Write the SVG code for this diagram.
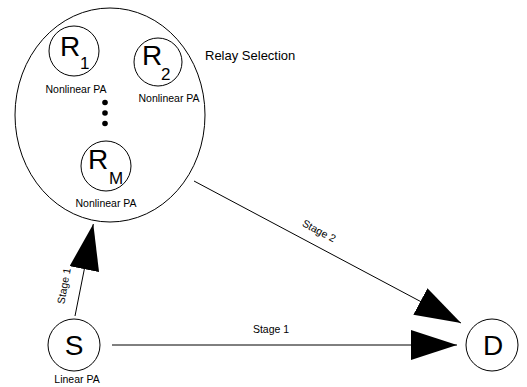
<svg xmlns="http://www.w3.org/2000/svg" width="527" height="387" viewBox="0 0 527 387">
<style>
.node{fill:#fff;stroke:#000;stroke-width:1}
.big{font-family:"Liberation Sans",Arial,sans-serif;font-size:28px;fill:#000}
.sub{font-family:"Liberation Sans",Arial,sans-serif;font-size:17px;fill:#000}
.lbl{font-family:"Liberation Sans",Arial,sans-serif;font-size:10.5px;fill:#000;text-anchor:middle}
.title{font-family:"Liberation Sans",Arial,sans-serif;font-size:13px;fill:#000}
.conn{stroke:#000;stroke-width:1;fill:none;marker-end:url(#ah)}
</style>
<defs>
<marker id="ah" markerUnits="userSpaceOnUse" markerWidth="47" markerHeight="31" refX="46" refY="15" orient="auto" viewBox="0 0 47 31">
<path d="M0,0 L46,15 L0,30 Z" fill="#000"/>
</marker>
</defs>
<rect width="527" height="387" fill="#fff"/>
<g id="relay-selection">
<ellipse cx="110" cy="115" rx="95" ry="107" fill="none" stroke="#000" stroke-width="1"/>
<text class="title" x="205" y="60">Relay Selection</text>
</g>
<g id="R1">
<circle class="node" cx="74" cy="51" r="25"/>
<text class="big" x="60" y="56">R</text>
<text class="sub" x="80" y="69">1</text>
<text class="lbl" x="76" y="93">Nonlinear PA</text>
</g>
<g id="R2">
<circle class="node" cx="158" cy="62" r="24"/>
<text class="big" x="142" y="65">R</text>
<text class="sub" x="161" y="80">2</text>
<text class="lbl" x="169" y="102">Nonlinear PA</text>
</g>
<g id="dots">
<circle cx="105" cy="102.5" r="2.8" fill="#000"/>
<circle cx="105" cy="113" r="2.8" fill="#000"/>
<circle cx="105" cy="123.5" r="2.8" fill="#000"/>
</g>
<g id="RM">
<circle class="node" cx="106" cy="166" r="25"/>
<text class="big" x="88" y="169">R</text>
<text class="sub" x="109" y="184">M</text>
<text class="lbl" x="106" y="207">Nonlinear PA</text>
</g>
<g id="S">
<circle class="node" cx="74" cy="345" r="26"/>
<text class="big" x="74" y="355" text-anchor="middle">S</text>
<text class="lbl" x="77" y="383">Linear PA</text>
</g>
<g id="D">
<circle class="node" cx="492" cy="345" r="26"/>
<text class="big" x="493" y="355" text-anchor="middle">D</text>
</g>
<g id="connectors">
<line class="conn" x1="112" y1="345" x2="457" y2="345"/>
<line class="conn" x1="194" y1="181" x2="461" y2="323"/>
<line class="conn" x1="75" y1="316" x2="93.3" y2="224"/>
<text class="lbl" x="271" y="333">Stage 1</text>
<text class="lbl" transform="translate(319,231) rotate(28)" y="3.5">Stage 2</text>
<text class="lbl" transform="translate(64,286) rotate(-79.6)" y="3.5">Stage 1</text>
</g>
</svg>
